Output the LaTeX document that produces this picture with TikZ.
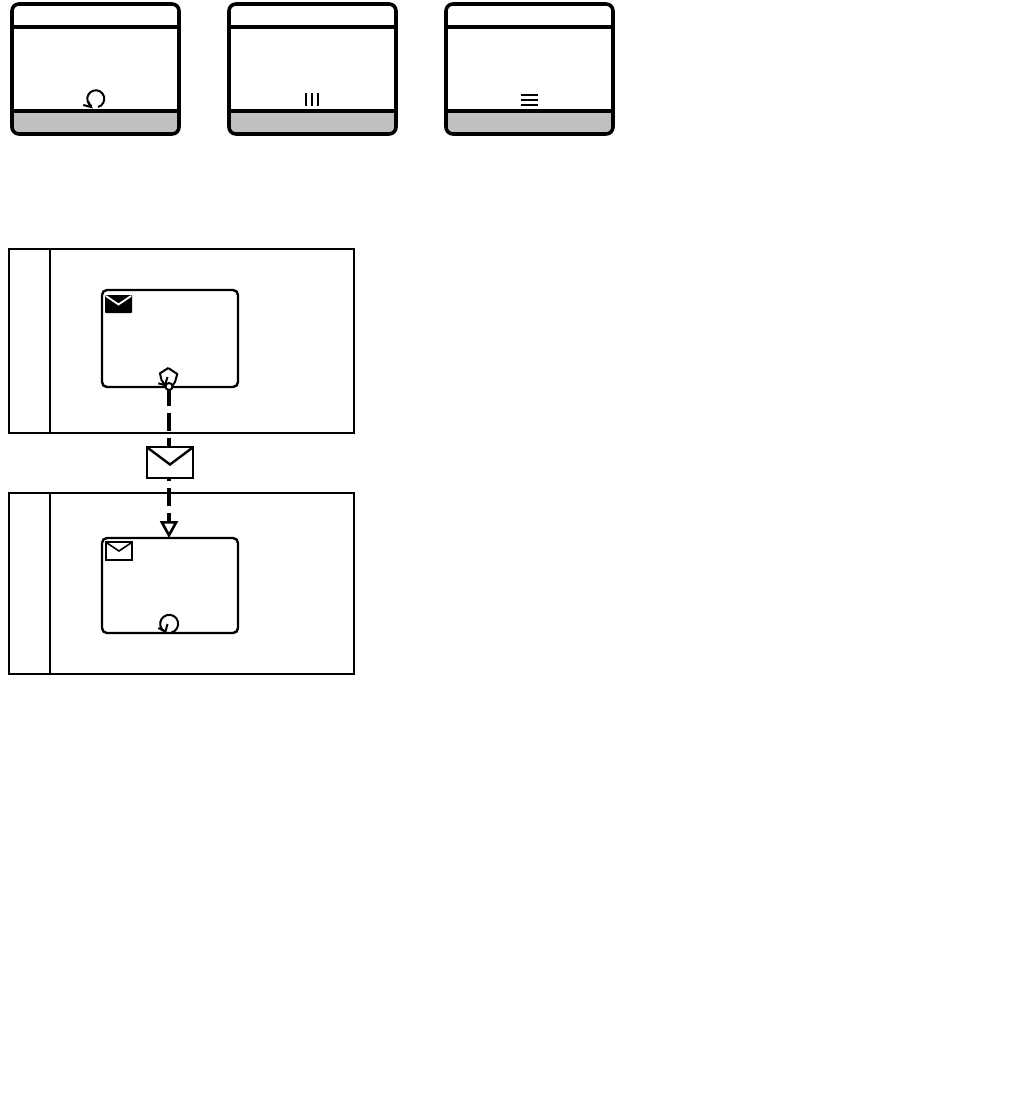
\documentclass[tikz,border=0pt]{standalone}
\usepackage{xcolor}
\usetikzlibrary{arrows.meta}
\definecolor{bandgray}{RGB}{192,192,192}
\tikzset{
  boxline/.style={line width=3.6pt},
  lanebox/.style={draw,line width=2pt,minimum width=345pt,minimum height=#1,inner sep=0pt},
  taskbox/.style={draw,line width=2.4pt,rounded corners=5pt,minimum width=136pt,minimum height=#1,inner sep=0pt,outer sep=0pt},
  mailbox/.style={draw,line width=2.4pt,minimum width=#1,inner sep=0pt,outer sep=0pt},
  iconline/.style={line width=2pt},
  msgline/.style={line width=4pt,dash pattern=on 18pt off 7pt},
}
\begin{document}
\begin{tikzpicture}[x=1pt,y=-1pt]
  \useasboundingbox (0,0) rectangle (1009,1094);
  % three boxes along the top
  \foreach \x in {12,229,446} {
    \fill[bandgray,rounded corners=7pt] (\x,111) -- (\x,134) -- (\x+167,134) -- (\x+167,111) -- cycle;
    \fill[bandgray] (\x,111) rectangle (\x+167,120);
    \draw[boxline,rounded corners=7pt] (\x,4) rectangle (\x+167,134);
    \draw[boxline] (\x,27) -- (\x+167,27);
    \draw[boxline] (\x,111) -- (\x+167,111);
  }
  % loop marker
  \draw[iconline] (98,107) arc (-285:-600:8.5);
  \draw[iconline] (83.3,105) -- (91,107) -- (88.3,101.7);
  % parallel marker
  \foreach \x in {306,312,318} \draw[iconline] (\x,93.5) -- (\x,106.5);
  % sequential marker
  \foreach \y in {95,100,105} \draw[iconline] (521,\y) -- (538,\y);

  % pools
  \node[lanebox=184pt] (lanetop) at (181.5,341) {};
  \node[lanebox=181pt] (lanelow) at (181.5,583.5) {};
  \draw[line width=2pt] (50,249) -- (50,433);
  \draw[line width=2pt] (50,493) -- (50,674);

  % tasks
  \node[taskbox=97pt] (tasksend) at (170,338.5) {};
  \node[taskbox=95pt] (taskrecv) at (170,585.5) {};

  % send mail icon
  \fill[rounded corners=1pt] (105,295) rectangle (132,313);
  \draw[white,line width=1.8pt] (106,296) -- (118.5,304.5) -- (131,296);
  % receive mail icon
  \node[mailbox=26pt,minimum height=18pt] (mailrecv) at (119,551) {};
  \draw[line width=1.6pt] ([xshift=1pt,yshift=-1pt]mailrecv.north west) -- (mailrecv.center) -- ([xshift=-1pt,yshift=-1pt]mailrecv.north east);

  % hexagon on the sending task
  \draw[iconline] (168.3,368) -- (177.3,374) -- (175,382) -- (172,386);
  \draw[iconline] (165,385) -- (161.5,380) -- (160,373.3) -- (168.3,368);
  \draw[iconline] (167.5,377) -- (165,385);
  \draw[iconline] (158.3,383.3) -- (168.3,386);
  % message flow
  \coordinate (flowstart) at (169,388);
  \draw[msgline,-{Triangle[length=17pt,width=18pt,fill=white,line width=2.6pt]}] (flowstart) -- (flowstart |- taskrecv.north);
  \draw[line width=2pt,fill=white] (169,386.5) circle (3.5);
  % envelope on the flow
  \node[mailbox=46pt,minimum height=31pt,fill=white] (mailflow) at (170,462.5) {};
  \draw[line width=2.4pt] ([xshift=1pt,yshift=-1pt]mailflow.north west) -- ([yshift=-2pt]mailflow.center) -- ([xshift=-1pt,yshift=-1pt]mailflow.north east);

  % loop marker on the receiving task
  \draw[iconline] (171.5,632.5) arc (-285:-600:9);
  \draw[iconline] (158.3,628) -- (165.5,631.5) -- (167.5,624);
\end{tikzpicture}
\end{document}
